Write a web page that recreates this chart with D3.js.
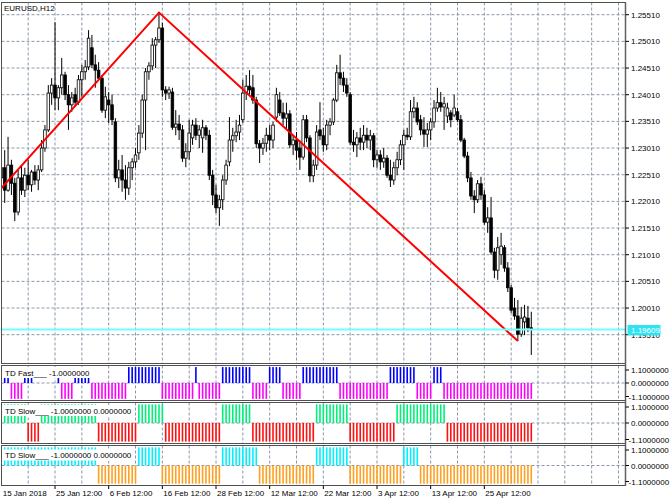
<!DOCTYPE html>
<html><head><meta charset="utf-8">
<script src="https://cdn.jsdelivr.net/npm/d3@7"></script>
<style>
body{margin:0;background:#fff}
svg{display:block}
text{font-family:"Liberation Sans",Arial,sans-serif;font-size:8px;fill:#000}
</style>
</head><body>
<svg id="c" width="670" height="502"></svg>
<script>
// ---------- DATA ----------
const symbolTitle = "EURUSD,H12";
const barOpen = [
1.2256,1.2245,1.2264,1.2222,1.2269,1.2235,1.2181,1.2245,1.2222,1.2250,
1.2232,1.2256,1.2241,1.2260,1.2301,1.2335,1.2404,1.2419,1.2395,1.2414,
1.2438,1.2401,1.2382,1.2401,1.2387,1.2429,1.2444,1.2453,1.2489,1.2457,
1.2447,1.2432,1.2372,1.2391,1.2382,1.2350,1.2245,1.2260,1.2241,1.2226,
1.2264,1.2275,1.2292,1.2329,1.2391,1.2444,1.2455,1.2494,1.2504,1.2526,
1.2410,1.2404,1.2406,1.2340,1.2346,1.2335,1.2282,1.2294,1.2320,1.2344,
1.2325,1.2320,1.2339,1.2325,1.2250,1.2213,1.2189,1.2204,1.2241,1.2275,
1.2316,1.2324,1.2331,1.2354,1.2404,1.2417,1.2414,1.2391,1.2309,1.2301,
1.2310,1.2325,1.2316,1.2359,1.2391,1.2367,1.2357,1.2365,1.2307,1.2316,
1.2301,1.2284,1.2354,1.2320,1.2249,1.2269,1.2335,1.2324,1.2307,1.2344,
1.2350,1.2391,1.2442,1.2432,1.2419,1.2401,1.2312,1.2307,1.2320,1.2312,
1.2325,1.2316,1.2324,1.2279,1.2288,1.2275,1.2282,1.2250,1.2241,1.2264,
1.2279,1.2307,1.2325,1.2322,1.2369,1.2376,1.2354,1.2335,1.2327,1.2335,
1.2350,1.2376,1.2386,1.2378,1.2361,1.2367,1.2363,1.2369,1.2354,1.2316,
1.2286,1.2245,1.2211,1.2204,1.2234,1.2213,1.2162,1.2170,1.2106,1.2072,
1.2101,1.2114,1.2076,1.2039,1.2001,1.1986,1.1952,1.1975,1.1982,1.1964];
const barHigh = [
1.2269,1.2279,1.2297,1.2322,1.2279,1.2245,1.2260,1.2269,1.2264,1.2279,
1.2260,1.2269,1.2269,1.2316,1.2344,1.2419,1.2432,1.2537,1.2419,1.2470,
1.2444,1.2419,1.2406,1.2414,1.2438,1.2457,1.2466,1.2522,1.2513,1.2476,
1.2462,1.2438,1.2416,1.2406,1.2401,1.2357,1.2279,1.2288,1.2269,1.2275,
1.2282,1.2301,1.2344,1.2401,1.2451,1.2462,1.2507,1.2509,1.2555,1.2536,
1.2417,1.2416,1.2414,1.2372,1.2363,1.2344,1.2310,1.2354,1.2354,1.2357,
1.2344,1.2354,1.2344,1.2335,1.2260,1.2232,1.2213,1.2250,1.2279,1.2359,
1.2339,1.2354,1.2363,1.2429,1.2438,1.2447,1.2438,1.2397,1.2316,1.2320,
1.2339,1.2344,1.2350,1.2414,1.2406,1.2386,1.2386,1.2372,1.2325,1.2331,
1.2316,1.2363,1.2363,1.2325,1.2279,1.2344,1.2387,1.2339,1.2354,1.2357,
1.2395,1.2457,1.2476,1.2444,1.2432,1.2406,1.2335,1.2331,1.2339,1.2344,
1.2339,1.2335,1.2329,1.2297,1.2297,1.2301,1.2288,1.2279,1.2275,1.2294,
1.2316,1.2335,1.2339,1.2391,1.2397,1.2387,1.2363,1.2359,1.2348,1.2357,
1.2391,1.2414,1.2406,1.2397,1.2386,1.2372,1.2401,1.2376,1.2363,1.2320,
1.2294,1.2256,1.2222,1.2241,1.2247,1.2222,1.2190,1.2209,1.2114,1.2134,
1.2142,1.2119,1.2087,1.2044,1.2020,1.2016,1.2003,1.2007,1.2005,1.1994];
const barLow = [
1.2232,1.2209,1.2198,1.2219,1.2213,1.2164,1.2175,1.2213,1.2209,1.2222,
1.2219,1.2232,1.2222,1.2256,1.2294,1.2331,1.2382,1.2372,1.2372,1.2401,
1.2391,1.2335,1.2369,1.2380,1.2382,1.2397,1.2429,1.2447,1.2451,1.2414,
1.2429,1.2367,1.2357,1.2348,1.2344,1.2237,1.2226,1.2219,1.2204,1.2213,
1.2241,1.2264,1.2279,1.2320,1.2297,1.2429,1.2447,1.2451,1.2498,1.2397,
1.2391,1.2393,1.2335,1.2325,1.2316,1.2275,1.2265,1.2279,1.2307,1.2316,
1.2301,1.2292,1.2316,1.2241,1.2194,1.2179,1.2155,1.2185,1.2232,1.2267,
1.2294,1.2312,1.2316,1.2348,1.2391,1.2401,1.2384,1.2301,1.2273,1.2288,
1.2294,1.2297,1.2301,1.2350,1.2361,1.2344,1.2335,1.2301,1.2288,1.2279,
1.2260,1.2279,1.2312,1.2237,1.2237,1.2260,1.2316,1.2294,1.2297,1.2325,
1.2344,1.2387,1.2419,1.2406,1.2397,1.2307,1.2294,1.2284,1.2297,1.2297,
1.2301,1.2297,1.2265,1.2264,1.2260,1.2264,1.2245,1.2228,1.2232,1.2250,
1.2269,1.2260,1.2316,1.2316,1.2357,1.2344,1.2325,1.2303,1.2303,1.2316,
1.2339,1.2369,1.2369,1.2335,1.2348,1.2340,1.2359,1.2350,1.2312,1.2282,
1.2237,1.2204,1.2179,1.2198,1.2204,1.2157,1.2142,1.2101,1.2057,1.2054,
1.2082,1.2069,1.2031,1.1992,1.1979,1.1939,1.1947,1.1950,1.1956,1.1913];
const barClose = [
1.2245,1.2264,1.2222,1.2269,1.2235,1.2181,1.2245,1.2222,1.2250,1.2232,
1.2256,1.2241,1.2260,1.2301,1.2335,1.2404,1.2419,1.2395,1.2414,1.2438,
1.2401,1.2382,1.2395,1.2387,1.2429,1.2444,1.2453,1.2507,1.2457,1.2447,
1.2432,1.2372,1.2397,1.2382,1.2354,1.2245,1.2260,1.2241,1.2226,1.2264,
1.2275,1.2288,1.2329,1.2391,1.2444,1.2455,1.2494,1.2504,1.2526,1.2410,
1.2404,1.2410,1.2340,1.2346,1.2335,1.2282,1.2294,1.2329,1.2344,1.2325,
1.2335,1.2339,1.2325,1.2250,1.2213,1.2189,1.2204,1.2241,1.2269,1.2316,
1.2324,1.2331,1.2344,1.2404,1.2417,1.2410,1.2391,1.2309,1.2301,1.2310,
1.2325,1.2316,1.2344,1.2401,1.2367,1.2357,1.2365,1.2307,1.2316,1.2297,
1.2284,1.2354,1.2320,1.2249,1.2269,1.2331,1.2324,1.2307,1.2344,1.2350,
1.2391,1.2442,1.2432,1.2419,1.2404,1.2312,1.2307,1.2320,1.2312,1.2325,
1.2316,1.2324,1.2279,1.2288,1.2275,1.2282,1.2250,1.2241,1.2264,1.2279,
1.2307,1.2325,1.2322,1.2369,1.2376,1.2350,1.2335,1.2327,1.2335,1.2350,
1.2376,1.2386,1.2378,1.2384,1.2376,1.2354,1.2376,1.2354,1.2316,1.2286,
1.2245,1.2211,1.2204,1.2234,1.2213,1.2162,1.2170,1.2106,1.2072,1.2114,
1.2117,1.2076,1.2039,1.1997,1.1986,1.1952,1.1982,1.1984,1.1964,1.19609];

const bidPrice = 1.19609;
const zigzagIndex = [0, 48, 155];
const zigzagPrice = [1.2219, 1.2555, 1.1939];

const priceTicks = [1.25510,1.25010,1.24510,1.24010,1.23510,1.23010,1.22510,1.22010,1.21510,1.21010,1.20510,1.20010,1.19510];

const timeTickIndex = [1,17,33,49,65,81,97,113,129,145];
const timeTickLabel = ["15 Jan 2018","25 Jan 12:00","6 Feb 12:00","16 Feb 12:00","28 Feb 12:00","12 Mar 12:00","22 Mar 12:00","3 Apr 12:00","13 Apr 12:00","25 Apr 12:00"];

// indicator states per bar: 1 = up buffer, -1 = down buffer, 0 = empty
const tdFast = [
1,1,1,1,-1,-1,-1,-1,1,1,
1,0,0,0,0,0,0,0,1,-1,
-1,-1,-1,1,1,1,1,1,-1,-1,
-1,-1,-1,-1,-1,-1,-1,-1,-1,1,
1,1,1,1,1,1,1,1,1,-1,
-1,-1,-1,-1,-1,-1,-1,-1,-1,1,
-1,-1,-1,-1,-1,-1,-1,1,1,1,
1,1,1,1,1,1,-1,-1,-1,-1,
-1,1,1,1,1,-1,-1,-1,-1,-1,
-1,1,1,1,1,1,1,1,1,1,
1,1,-1,-1,-1,-1,-1,-1,-1,-1,
-1,-1,-1,-1,-1,-1,-1,1,1,1,
1,1,1,1,1,-1,-1,-1,-1,-1,
1,1,1,-1,-1,-1,-1,-1,-1,-1,
-1,-1,-1,-1,-1,-1,-1,-1,-1,-1,
-1,-1,-1,-1,-1,-1,-1,-1,-1,-1];
const tdSlowA = [
1,1,1,1,1,1,1,1,1,-1,
-1,-1,-1,1,1,1,1,1,1,1,
1,1,1,1,1,1,1,1,1,1,
-1,-1,-1,-1,-1,-1,-1,-1,-1,-1,
-1,-1,1,1,1,1,1,1,1,1,
-1,-1,-1,-1,-1,-1,-1,-1,-1,-1,
-1,-1,-1,-1,-1,-1,-1,1,1,1,
1,1,1,1,1,1,-1,-1,-1,-1,
-1,-1,-1,-1,-1,-1,-1,-1,-1,-1,
-1,-1,-1,-1,-1,1,1,1,1,1,
1,1,1,1,1,-1,-1,-1,-1,-1,
-1,-1,-1,-1,-1,-1,-1,-1,-1,1,
1,1,1,1,1,1,1,1,1,1,
1,1,1,1,-1,-1,-1,-1,-1,-1,
-1,-1,-1,-1,-1,-1,-1,-1,-1,-1,
-1,-1,-1,-1,-1,-1,-1,-1,-1,-1];
const tdSlowB = [
1,1,1,1,1,1,1,1,1,1,
1,1,1,1,1,1,1,1,1,1,
1,1,1,1,1,1,1,1,1,1,
-1,-1,-1,-1,-1,-1,-1,-1,-1,-1,
-1,-1,1,1,1,1,1,1,1,-1,
-1,-1,-1,-1,-1,-1,-1,-1,-1,-1,
-1,-1,-1,-1,-1,-1,-1,1,1,1,
1,1,1,1,1,1,1,1,-1,-1,
-1,-1,-1,-1,-1,-1,-1,-1,-1,-1,
-1,-1,-1,-1,-1,1,1,1,1,1,
1,1,1,1,1,-1,-1,-1,-1,-1,
-1,-1,-1,-1,-1,-1,-1,-1,-1,-1,
-1,1,1,1,1,1,-1,-1,-1,-1,
-1,-1,-1,-1,-1,-1,-1,-1,-1,-1,
-1,-1,-1,-1,-1,-1,-1,-1,-1,-1,
-1,-1,-1,-1,-1,-1,-1,-1,-1,-1];

const subLabels = ["TD Fast___ -1.0000000","TD Slow___ -1.0000000 0.0000000","TD Slow___ -1.0000000 0.0000000"];
const subLevels = [1.1, 0, -1.1];

// ---------- LAYOUT ----------
const svg = d3.select("#c");
const L = 1.5, R = 625.5;
const mainTop = 2.5, mainBot = 363.5;
const subs = [
  {y0:365.5, y1:400.5, data:tdFast,  up:"#0000ff", dn:"#ff00ff", label:subLabels[0], boxW:89},
  {y0:402.5, y1:443.5, data:tdSlowA, up:"#00f07a", dn:"#ff1010", label:subLabels[1], boxW:127},
  {y0:445.5, y1:485.5, data:tdSlowB, up:"#00f0ff", dn:"#ffa020", label:subLabels[2], boxW:127}
];

const x = d3.scaleLinear().domain([0, 100]).range([-2, 333.4]);
const y = d3.scaleLinear().domain([1.19510, 1.25510]).range([334.7, 14.7]);

const gridColor = "#8a98ab";
const gridIdx = d3.range(9, 186, 8);

// clip for main
const defs = svg.append("defs");
defs.append("clipPath").attr("id","mainClip").append("rect")
  .attr("x", L).attr("y", mainTop).attr("width", R-L).attr("height", mainBot-mainTop);

// main grid
const g = svg.append("g");
g.selectAll("line.hg").data(priceTicks).join("line")
  .attr("x1", L).attr("x2", R).attr("y1", d=>y(d)).attr("y2", d=>y(d))
  .attr("stroke", gridColor).attr("stroke-dasharray","3,2").attr("stroke-width",1);
g.selectAll("line.vg").data(gridIdx).join("line")
  .attr("x1", d=>x(d)).attr("x2", d=>x(d)).attr("y1", mainTop).attr("y2", mainBot)
  .attr("stroke", gridColor).attr("stroke-dasharray","3,2").attr("stroke-width",1);

// sub grids
subs.forEach(s => {
  const ys = d3.scaleLinear().domain([-1.1, 1.1]).range([s.y1, s.y0]);
  s.ys = ys;
  g.selectAll(null).data(gridIdx).join("line")
    .attr("x1", d=>x(d)).attr("x2", d=>x(d)).attr("y1", s.y0).attr("y2", s.y1)
    .attr("stroke", gridColor).attr("stroke-dasharray","3,2");
  g.append("line").attr("x1", L).attr("x2", R).attr("y1", ys(0)).attr("y2", ys(0))
    .attr("stroke", gridColor).attr("stroke-dasharray","3,2");
});

// candles
const cg = svg.append("g").attr("clip-path","url(#mainClip)");
const idx = d3.range(barOpen.length);
cg.selectAll("line.wick").data(idx).join("line")
  .attr("x1", i=>x(i)).attr("x2", i=>x(i))
  .attr("y1", i=>y(barHigh[i])).attr("y2", i=>y(barLow[i]))
  .attr("stroke","#000").attr("stroke-width",1);
const bw = 2.6;
cg.selectAll("rect.body").data(idx).join("rect")
  .attr("x", i=>x(i)-bw/2).attr("width", bw)
  .attr("y", i=>Math.min(y(barOpen[i]), y(barClose[i])))
  .attr("height", i=>Math.max(0.8, Math.abs(y(barOpen[i]) - y(barClose[i]))))
  .attr("fill", i=> barClose[i] >= barOpen[i] ? "#fff" : "#000")
  .attr("stroke","#000").attr("stroke-width",0.8);

// zigzag
const zz = zigzagIndex.map((d,k)=>({i:d, p:zigzagPrice[k]}));
cg.append("path").datum(zz)
  .attr("d", d3.line().x(d=>x(d.i)).y(d=>y(d.p)))
  .attr("fill","none").attr("stroke","#ff0000").attr("stroke-width",2);

// bid line
cg.append("line").attr("x1", L).attr("x2", R).attr("y1", y(bidPrice)).attr("y2", y(bidPrice))
  .attr("stroke","#70ffff").attr("stroke-width",2);

// sub histograms
subs.forEach(s => {
  const sg = svg.append("g");
  sg.selectAll("rect").data(idx.filter(i=>s.data[i]!==0 && x(i)>L)).join("rect")
    .attr("x", i=>x(i)-0.8).attr("width",1.6)
    .attr("y", i=> s.data[i]>0 ? s.ys(1) : s.ys(0))
    .attr("height", i=> Math.abs(s.ys(1)-s.ys(0)))
    .attr("fill", i=> s.data[i]>0 ? s.up : s.dn);
  // label box
  const ly = s.y0 + (s === subs[0] ? 1.5 : (s === subs[1] ? 2.5 : 4));
  sg.append("rect").attr("x",3).attr("y",ly).attr("width",s.boxW).attr("height",11).attr("fill","#fff");
  sg.append("text").attr("x",5).attr("y",ly+8.5).text(s.label);
});

// frames
const fr = svg.append("g").attr("fill","none").attr("stroke","#505050").attr("stroke-width",1);
fr.append("rect").attr("x",L).attr("y",mainTop).attr("width",R-L).attr("height",mainBot-mainTop);
subs.forEach(s => fr.append("rect").attr("x",L).attr("y",s.y0).attr("width",R-L).attr("height",s.y1-s.y0));
svg.append("line").attr("x1",R).attr("x2",R).attr("y1",mainTop).attr("y2",485.5)
  .attr("stroke","#606060").attr("stroke-width",1.5);

// title
svg.append("text").attr("x",4).attr("y",10.5).text(symbolTitle);

// price axis
const ax = svg.append("g");
priceTicks.forEach(p => {
  ax.append("line").attr("x1",R).attr("x2",R+3.5).attr("y1",y(p)).attr("y2",y(p)).attr("stroke","#000");
  ax.append("text").attr("x",631).attr("y",y(p)+3).text(p.toFixed(5));
});
// bid label
ax.append("rect").attr("x",627.5).attr("y",y(bidPrice)-4.5).attr("width",33).attr("height",10.5).attr("fill","#2fe3f2");
ax.append("text").attr("x",631).attr("y",y(bidPrice)+3.5).style("fill","#fff").text(bidPrice.toFixed(5));

// sub axes
subs.forEach(s => {
  subLevels.forEach(v => {
    let cy = v > 0 ? s.y0 + 4.5 : (v < 0 ? s.y1 - 4 : s.ys(0));
    ax.append("line").attr("x1",R).attr("x2",R+3.5).attr("y1",cy).attr("y2",cy).attr("stroke","#000");
    ax.append("text").attr("x", v<0 ? 628.6 : 631).attr("y",cy+3).text(v.toFixed(7));
  });
});

// time axis
timeTickIndex.forEach((ti,k) => {
  const tx = x(ti);
  if (k>0) svg.append("line").attr("x1",tx).attr("x2",tx).attr("y1",485.5).attr("y2",489).attr("stroke","#000");
  svg.append("text").attr("x", k===0 ? 2.7 : tx+1).attr("y",495.5).text(timeTickLabel[k]);
});
</script>
</body></html>
